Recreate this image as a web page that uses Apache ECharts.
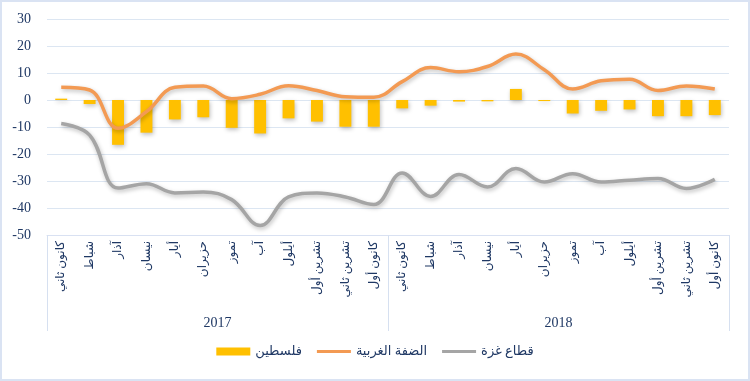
<!DOCTYPE html>
<html><head><meta charset="utf-8">
<script src="https://cdn.jsdelivr.net/npm/echarts@6/dist/echarts.min.js"></script>
<style>
html,body{margin:0;padding:0;background:#fff;}
#c{position:absolute;left:0;top:0;width:746px;height:377px;border:2px solid #dae3f3;}
</style></head>
<body><div id="c"></div>
<script>
var months = ['كانون ثاني','شباط','آذار','نيسان','أيار','حزيران','تموز','آب','أيلول','تشرين أول','تشرين ثاني','كانون أول',
              'كانون ثاني','شباط','آذار','نيسان','أيار','حزيران','تموز','آب','أيلول','تشرين أول','تشرين ثاني','كانون أول'];
var years = ['2017','2018'];
var seriesNames = ['فلسطين','الضفة الغربية','قطاع غزة'];
var palestine = [0.5,-1.5,-16.6,-12.1,-7.2,-6.4,-10.3,-12.4,-6.8,-8.0,-9.9,-9.9,
                 -3.1,-2.1,-0.6,-0.5,4.1,-0.4,-5.0,-4.0,-3.5,-6.0,-6.0,-5.6];
var westBank = [4.7,3.7,-10.5,-4.3,4.7,5.2,0.5,2.1,5.3,3.5,1.2,1.0,
                6.8,12.0,10.5,12.4,17.0,11.2,4.1,7.1,7.7,3.5,5.2,4.1];
var gaza = [-8.7,-13.0,-32.6,-31.0,-34.4,-34.1,-36.9,-46.5,-35.9,-34.4,-35.9,-38.7,
            -27.0,-35.7,-27.6,-32.2,-25.4,-30.4,-27.3,-30.4,-29.7,-29.1,-32.8,-29.4];

var chart = echarts.init(document.getElementById('c'), null, {renderer:'canvas'});
var txt = '#1f3864';
var font = "'Liberation Serif','DejaVu Serif','DejaVu Sans',serif";
var lineIcon = 'path://M0,0 L34,0 L34,3 L0,3 Z';
chart.setOption({
  animation:false,
  textStyle:{fontFamily:font},
  grid:{left:45,right:19,top:17,bottom:144,containLabel:false},
  legend:{
    bottom:16,left:'center',itemWidth:34,itemHeight:8,itemGap:15,
    textStyle:{color:txt,fontSize:13,fontFamily:font},
    data:[{name:seriesNames[0],icon:'rect'},{name:seriesNames[1],icon:lineIcon},{name:seriesNames[2],icon:lineIcon}]
  },
  xAxis:[{
    type:'category',data:months,position:'bottom',
    axisLine:{show:true,onZero:false,lineStyle:{color:'#d9e1f2',width:1}},
    axisTick:{show:true,length:96,interval:function(i){return i%12===0;},lineStyle:{color:'#d6e0f0'}},
    splitLine:{show:false},
    axisLabel:{interval:0,rotate:90,margin:6,fontSize:12,color:txt,fontFamily:font}
  },{
    type:'category',data:years,position:'bottom',
    axisLine:{show:false},
    axisTick:{show:false},
    splitLine:{show:false},
    axisLabel:{margin:81,fontSize:14,color:txt,fontFamily:font}
  }],
  yAxis:{
    type:'value',min:-50,max:30,interval:10,
    axisLine:{show:false},axisTick:{show:false},
    splitLine:{lineStyle:{color:'#dce6f2',width:1}},
    axisLabel:{fontSize:14,color:txt,margin:16,fontFamily:font}
  },
  series:[{
    name:seriesNames[0],type:'bar',data:palestine,barWidth:'42%',xAxisIndex:0,
    itemStyle:{color:'#ffc000',shadowColor:'rgba(0,0,0,0.25)',shadowBlur:4,shadowOffsetX:1,shadowOffsetY:2}
  },{
    name:seriesNames[1],type:'line',data:westBank,smooth:0.4,symbol:'none',xAxisIndex:0,
    lineStyle:{color:'#f39a53',width:3.5,shadowColor:'rgba(0,0,0,0.25)',shadowBlur:4,shadowOffsetX:1,shadowOffsetY:2},
    itemStyle:{color:'#f39a53'}
  },{
    name:seriesNames[2],type:'line',data:gaza,smooth:0.4,symbol:'none',xAxisIndex:0,
    lineStyle:{color:'#a5a5a5',width:3.5,shadowColor:'rgba(0,0,0,0.25)',shadowBlur:4,shadowOffsetX:1,shadowOffsetY:2},
    itemStyle:{color:'#a5a5a5'}
  }]
});
</script></body></html>
